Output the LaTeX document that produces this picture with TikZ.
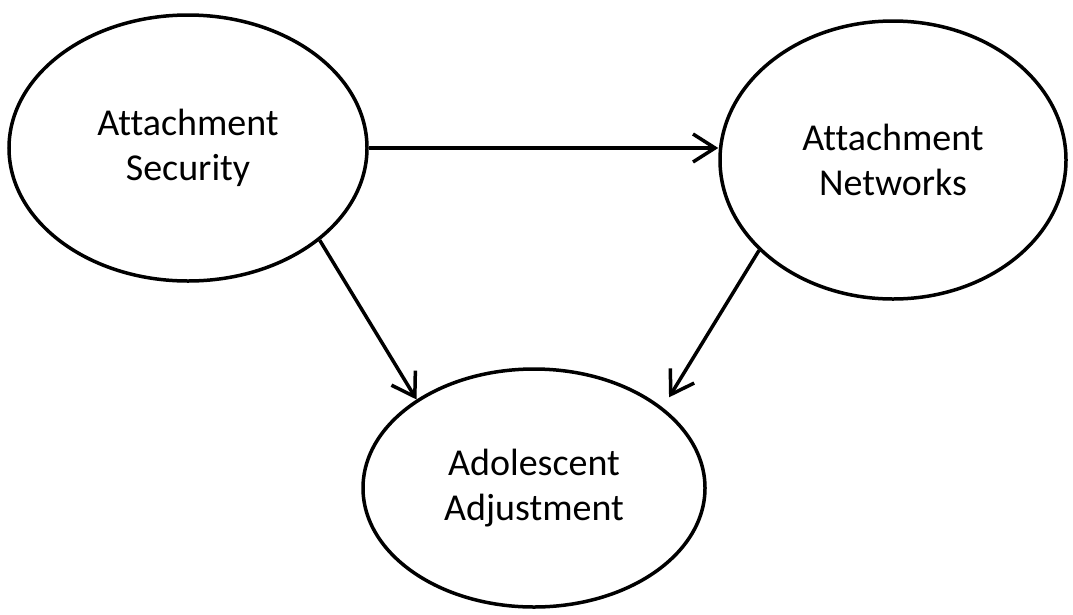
\documentclass[tikz,border=0pt]{standalone}
\usepackage{fontspec}
\setmainfont[Ligatures=NoCommon]{Carlito}
\usetikzlibrary{arrows.meta,shapes.geometric}
\begin{document}
\begin{tikzpicture}[x=1pt,y=-1pt,
    construct/.style={draw, ellipse, line width=3.5pt, inner sep=0pt, align=center,
        font=\fontsize{38}{45}\selectfont},
    path/.style={line width=3.5pt, -{Straight Barb[length=22pt,width=28pt,line width=3.5pt]}}]
    \useasboundingbox (0,0) rectangle (1073,614);
    % Constructs
    \node[construct, minimum width=358pt, minimum height=266pt] (sec) at (188,148) {Attachment\\Security};
    \node[construct, minimum width=346pt, minimum height=278pt] (net) at (893,160) {Attachment\\Networks};
    \node[construct, minimum width=342pt, minimum height=238pt] (adj) at (534,488) {Adolescent\\Adjustment};
    % Paths
    \draw[path] (sec.east) -- (sec.east -| net.west);
    \draw[path] (sec.-35) -- (adj.143);
    \draw[path, shorten >=12pt] (net.-146) -- (adj.32);
\end{tikzpicture}
\end{document}
